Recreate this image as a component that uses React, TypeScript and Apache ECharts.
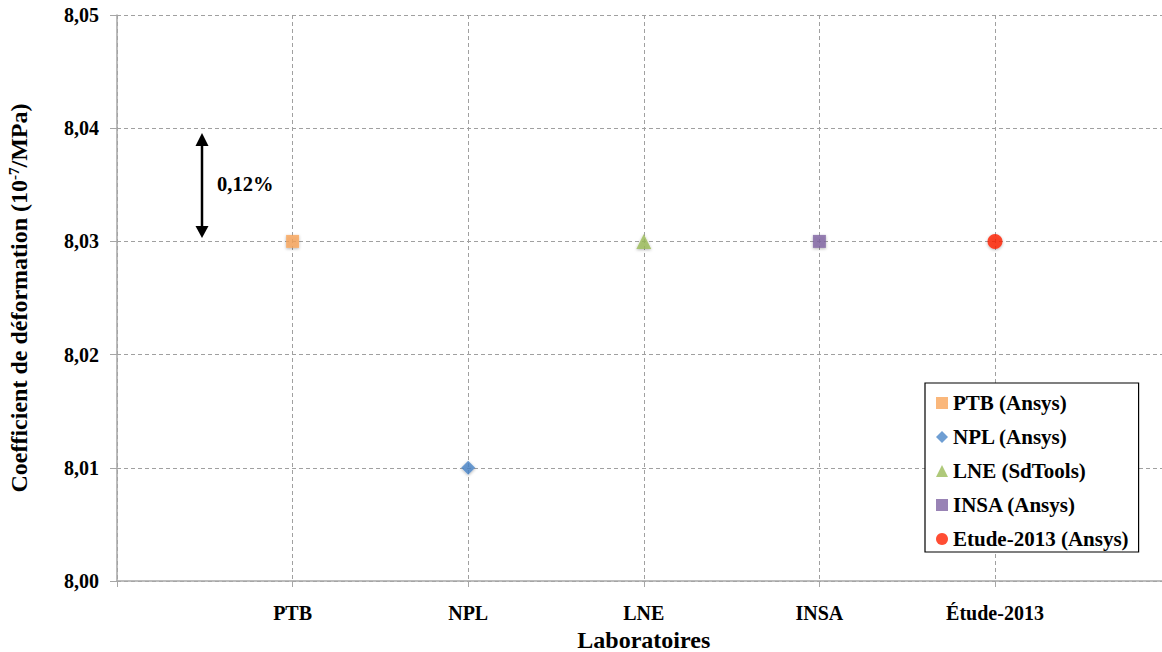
import React, { useEffect, useRef } from "react";
import * as echarts from "echarts";

const categories = ["PTB", "NPL", "LNE", "INSA", "Étude-2013"];
const seriesNames = ["PTB (Ansys)", "NPL (Ansys)", "LNE (SdTools)", "INSA (Ansys)", "Etude-2013 (Ansys)"];
const values = [8.03, 8.01, 8.03, 8.03, 8.03];
const symbols = ["rect", "diamond", "triangle", "rect", "circle"];
const symbolSizes = [13, 14, 15, 13, 15];
const colors = ["#F9A55A", "#4A86C8", "#9BBB59", "#8064A2", "#FF2000"];
const yTicks = [8.0, 8.01, 8.02, 8.03, 8.04, 8.05];

const FONT = '"Times New Roman", "Liberation Serif", serif';

export default function App() {
  const ref = useRef<HTMLDivElement>(null);
  useEffect(() => {
    if (!ref.current) return;
    const chart = echarts.init(ref.current, undefined, { renderer: "svg" });
    const series = categories.map((c, i) => ({
      name: seriesNames[i],
      type: "scatter",
      symbol: symbols[i],
      symbolSize: symbolSizes[i],
      itemStyle: {
        color: colors[i],
        shadowBlur: 3,
        shadowColor: "rgba(0,0,0,0.35)",
        shadowOffsetY: 1,
      },
      data: [[i + 1, values[i]]],
      z: 5,
    }));
    chart.setOption({
      animation: false,
      backgroundColor: "#fff",
      textStyle: { fontFamily: FONT },
      grid: { left: 117, top: 15, right: -8.6, bottom: 71, containLabel: false, outerBoundsMode: "none" },
      xAxis: {
        type: "value",
        min: 0,
        max: categories.length + 1,
        interval: 1,
        name: "Laboratoires",
        nameLocation: "middle",
        nameGap: 43,
        nameTextStyle: { fontFamily: FONT, fontWeight: "bold", fontSize: 24, color: "#000" },
        axisLine: { show: true, lineStyle: { color: "#A6A6A6", width: 1.5 } },
        axisTick: { show: true, length: 6, lineStyle: { color: "#A6A6A6" } },
        axisLabel: {
          margin: 22,
          fontFamily: FONT,
          fontWeight: "bold",
          fontSize: 20,
          color: "#000",
          formatter: (v: number) => categories[v - 1] ?? "",
        },
        splitLine: { show: true, lineStyle: { color: "#A0A0A0", type: [4, 3], width: 1 } },
      },
      yAxis: {
        type: "value",
        min: yTicks[0],
        max: yTicks[yTicks.length - 1],
        interval: 0.01,
        name: "{a|Coefficient de déformation (10}{s|-7}{a|/MPa)}",
        nameLocation: "middle",
        nameGap: 85,
        nameTextStyle: {
          rich: {
            a: { fontFamily: FONT, fontWeight: "bold", fontSize: 24, color: "#000", lineHeight: 26 },
            s: { fontFamily: FONT, fontWeight: "bold", fontSize: 15, color: "#000", verticalAlign: "top", lineHeight: 26 },
          },
        },
        axisLine: { show: true, lineStyle: { color: "#A6A6A6", width: 1.5 } },
        axisTick: { show: true, length: 7, lineStyle: { color: "#A6A6A6" } },
        axisLabel: {
          margin: 18,
          fontFamily: FONT,
          fontWeight: "bold",
          fontSize: 20,
          color: "#000",
          formatter: (v: number) => v.toFixed(2).replace(".", ","),
        },
        splitLine: { show: true, lineStyle: { color: "#A0A0A0", type: [4, 3], width: 1 } },
      },
      legend: {
        orient: "vertical",
        left: 925,
        top: 383,
        padding: [8, 10, 1, 11],
        itemGap: 10,
        itemWidth: 12,
        itemHeight: 12,
        backgroundColor: "#fff",
        borderColor: "#000",
        borderWidth: 1.2,
        textStyle: { fontFamily: FONT, fontWeight: "bold", fontSize: 21, color: "#000", lineHeight: 24 },
        data: seriesNames.map((n, i) => ({ name: n, itemStyle: { color: colors[i], shadowBlur: 0 } })),
      },
      graphic: [
        { type: "line", shape: { x1: 202, y1: 143, x2: 202, y2: 229 }, style: { stroke: "#000", lineWidth: 2.5 } },
        { type: "polygon", shape: { points: [[202, 133], [195.5, 146], [208.5, 146]] }, style: { fill: "#000" } },
        { type: "polygon", shape: { points: [[202, 238], [195.5, 226], [208.5, 226]] }, style: { fill: "#000" } },
        {
          type: "text",
          x: 217,
          y: 184,
          style: { text: "0,12%", font: `bold 20.5px ${FONT}`, fill: "#000", verticalAlign: "middle" },
        },
      ],
      series,
    });
    return () => chart.dispose();
  }, []);
  return <div ref={ref} style={{ position: "fixed", left: 0, top: 0, width: 1162, height: 652 }} />;
}
